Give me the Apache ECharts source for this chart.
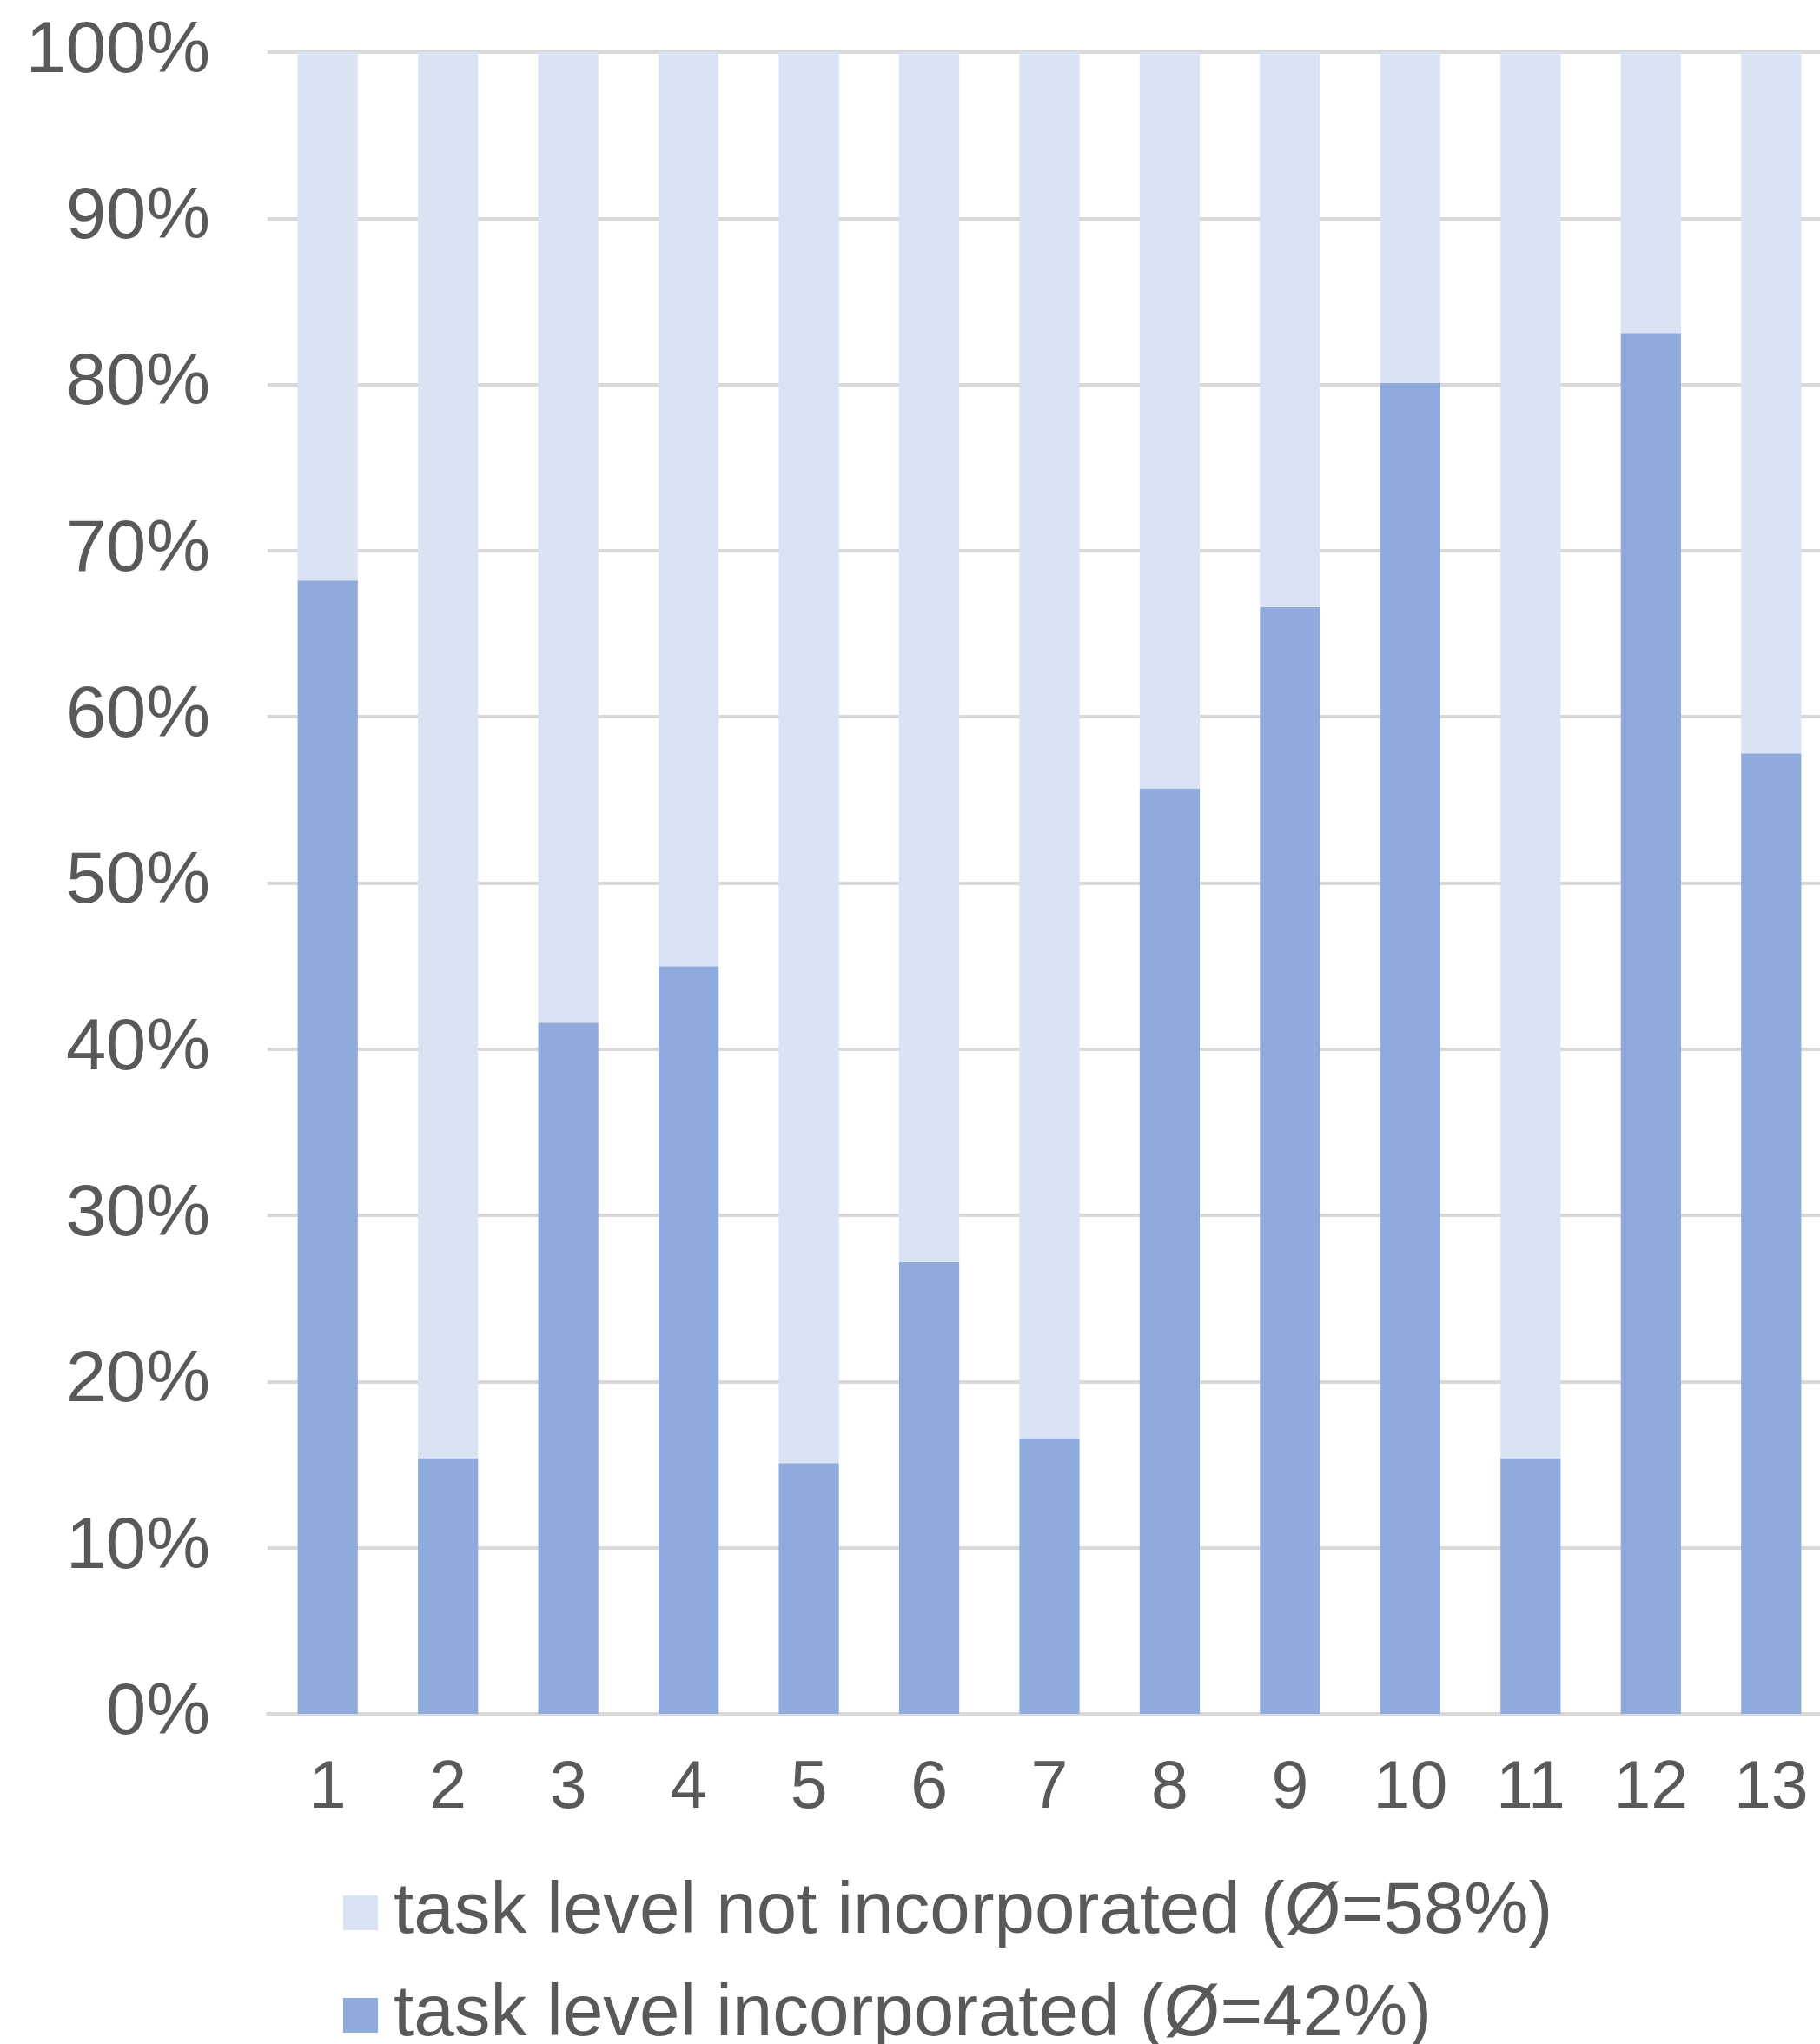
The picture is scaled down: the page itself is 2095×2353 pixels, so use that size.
<!DOCTYPE html>
<html>
<head>
<meta charset="utf-8">
<script src="https://cdn.jsdelivr.net/npm/echarts@6/dist/echarts.min.js"></script>
<style>
  html, body { margin: 0; padding: 0; background: #ffffff; overflow: hidden; }
  /* the plot runs slightly past the right edge of the window */
  #chart { width: 2108px; height: 2353px; }
</style>
</head>
<body>
<div id="chart"></div>
<script>
// Categories along the x axis
const categories = ['1', '2', '3', '4', '5', '6', '7', '8', '9', '10', '11', '12', '13'];

// Share (%) of cases where the task level was incorporated
const incorporated = [68.2, 15.4, 41.6, 45.0, 15.1, 27.2, 16.6, 55.7, 66.6, 80.1, 15.4, 83.1, 57.8];

// Remaining share (%) where the task level was not incorporated
const notIncorporated = incorporated.map(v => +(100 - v).toFixed(1));

// Series names shown in the legend
const nameNot = 'task level not incorporated (\u00D8=58%)';
const nameInc = 'task level incorporated (\u00D8=42%)';

// Y axis tick values
const yTicks = [0, 10, 20, 30, 40, 50, 60, 70, 80, 90, 100];

const FONT = '"Liberation Sans", Arial, Helvetica, sans-serif';
const TEXT = '#595959';
const GRID = '#d9d9d9';

// One legend block per row, stacked under the axis
function legendRow(name, top) {
  return {
    left: 390,
    top: top,
    itemWidth: 40,
    itemHeight: 40,
    icon: 'rect',
    data: [name],
    textStyle: {
      fontFamily: FONT,
      fontSize: 83.5,
      lineHeight: 80,
      color: TEXT,
      padding: [0, 0, 0, 13]
    }
  };
}

const chart = echarts.init(document.getElementById('chart'), null, { renderer: 'canvas' });

chart.setOption({
  backgroundColor: '#ffffff',
  animation: false,
  textStyle: { fontFamily: FONT },
  grid: {
    left: 308,
    right: 0,
    top: 60,
    bottom: 380
  },
  legend: [
    legendRow(nameNot, 2155),
    legendRow(nameInc, 2273)
  ],
  xAxis: {
    type: 'category',
    data: categories,
    axisTick: { show: false },
    axisLine: { show: true, lineStyle: { color: GRID, width: 4 } },
    axisLabel: {
      fontFamily: FONT,
      fontSize: 77,
      color: TEXT,
      margin: 48
    }
  },
  yAxis: {
    type: 'value',
    min: yTicks[0],
    max: yTicks[yTicks.length - 1],
    interval: yTicks[1] - yTicks[0],
    axisLine: { show: false },
    axisTick: { show: false },
    splitLine: { show: true, lineStyle: { color: GRID, width: 4 } },
    axisLabel: {
      fontFamily: FONT,
      fontSize: 83,
      color: TEXT,
      margin: 66,
      formatter: '{value}%'
    }
  },
  series: [
    {
      name: nameInc,
      type: 'bar',
      stack: 'share',
      barWidth: '50%',
      itemStyle: { color: '#8faadc' },
      data: incorporated
    },
    {
      name: nameNot,
      type: 'bar',
      stack: 'share',
      barWidth: '50%',
      itemStyle: { color: '#dae3f3' },
      data: notIncorporated
    }
  ]
});
</script>
</body>
</html>
